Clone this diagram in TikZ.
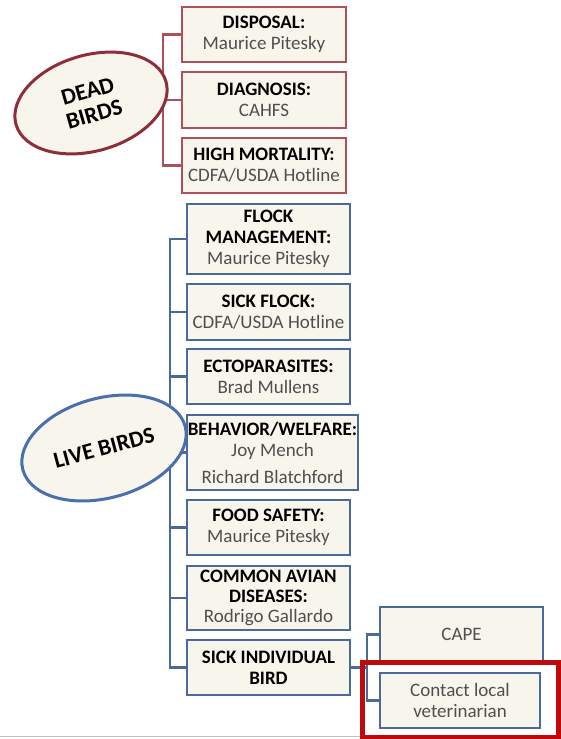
\documentclass[tikz,border=0pt]{standalone}
\usepackage{fontspec}
\setmainfont{Carlito}
\usetikzlibrary{shapes.geometric,backgrounds}
\definecolor{redb}{HTML}{B0505A}
\definecolor{redd}{HTML}{8C2F3B}
\definecolor{blueb}{HTML}{4A6A9C}
\definecolor{bluee}{HTML}{4A70AC}
\definecolor{cream}{HTML}{F8F5EC}
\definecolor{namegray}{HTML}{4F4F4F}
\definecolor{hilite}{HTML}{BE0A0A}
\newcommand\pname[1]{\textcolor{namegray}{#1}}
\begin{document}
\begin{tikzpicture}[x=1pt,y=-1pt,
  box/.style={draw, line width=2.8pt, fill=cream, rectangle, inner sep=0pt, align=center,
    font=\fontsize{19}{21}\selectfont},
  redbox/.style={box, draw=redb, minimum width=164pt, minimum height=55pt},
  bluebox/.style={box, draw=blueb, minimum width=163pt, minimum height=55pt},
  oval/.style={ellipse, line width=3pt, fill=cream, inner sep=0pt, align=center,
    font=\fontsize{23}{24}\selectfont\bfseries},
  redline/.style={draw=redb, line width=2.4pt},
  blueline/.style={draw=blueb, line width=2.4pt},
]
\useasboundingbox (0,0) rectangle (561,739);

% dead birds
\node[oval, draw=redd, minimum width=156pt, minimum height=96pt, rotate=16] (dead) at (91,103) {DEAD\\BIRDS};
\node[redbox] (disposal) at (264,34.5) {\textbf{DISPOSAL:}\\\pname{Maurice Pitesky}};
\node[redbox, minimum height=56pt] (diagnosis) at (264,100) {\textbf{DIAGNOSIS:}\\\pname{CAHFS}};
\node[redbox] (high) at (264,165.5) {\textbf{HIGH MORTALITY:}\\\pname{CDFA/USDA Hotline}};
\coordinate (dtrunk) at (163,100);

% live birds
\node[oval, draw=bluee, minimum width=168pt, minimum height=100pt, rotate=15] (live) at (104,448) {LIVE BIRDS};
\node[bluebox, minimum height=70pt] (flock) at (268.5,239) {\textbf{FLOCK}\\\textbf{MANAGEMENT:}\\\pname{Maurice Pitesky}};
\node[bluebox, minimum height=56pt] (sickflock) at (268.5,312) {\textbf{SICK FLOCK:}\\\pname{CDFA/USDA Hotline}};
\node[bluebox] (ecto) at (268.5,376.5) {\textbf{ECTOPARASITES:}\\\pname{Brad Mullens}};
\node[bluebox, minimum width=171pt, minimum height=75pt] (behav) at (272.5,452.5) {\textbf{BEHAVIOR/WELFARE:}\\\pname{Joy Mench}\\[6pt]\pname{Richard Blatchford}};
\node[bluebox] (food) at (268.5,527.5) {\textbf{FOOD SAFETY:}\\\pname{Maurice Pitesky}};
\node[bluebox, minimum height=64pt, font=\fontsize{19}{20}\selectfont] (common) at (268.5,598) {\textbf{COMMON AVIAN}\\\textbf{DISEASES:}\\\pname{Rodrigo Gallardo}};
\node[bluebox] (sickind) at (268.5,667.5) {\textbf{SICK INDIVIDUAL}\\\textbf{BIRD}};
\coordinate (ltrunk) at (170,452.5);

\node[bluebox] (cape) at (461.5,634.5) {\pname{CAPE}};
\node[bluebox, minimum width=160pt] (contact) at (460,700.5) {\pname{Contact local}\\\pname{veterinarian}};
\coordinate (strunk) at (367,667.5);

% highlight
\node[draw=hilite, line width=5pt, minimum width=196pt, minimum height=75pt, inner sep=0pt] (hl) at (460,699.5) {};
\coordinate (gl1) at (0,736.5);
\coordinate (gl2) at (360,736.5);
\draw[gray!50, line width=0.8pt] (gl1) -- (gl2);

\begin{scope}[on background layer]
  \fill[white] (0,0) rectangle (561,739);
  \draw[redline] (disposal.west) -| (dtrunk) |- (high.west);
  \draw[redline] (dtrunk) -- (diagnosis.west);
  \draw[redline] (dead) -- (dtrunk);
  \draw[blueline] (flock.west) -| (ltrunk) |- (sickind.west);
  \draw[blueline] (ltrunk) |- (sickflock.west);
  \draw[blueline] (ltrunk) |- (ecto.west);
  \draw[blueline] (ltrunk) -- (behav.west);
  \draw[blueline] (ltrunk) |- (food.west);
  \draw[blueline] (ltrunk) |- (common.west);
  \draw[blueline] (live) -- (ltrunk);
  \draw[blueline] (sickind.east) -- (strunk);
  \draw[blueline] (cape.west) -| (strunk) |- (contact.west);
\end{scope}
\end{tikzpicture}
\end{document}
